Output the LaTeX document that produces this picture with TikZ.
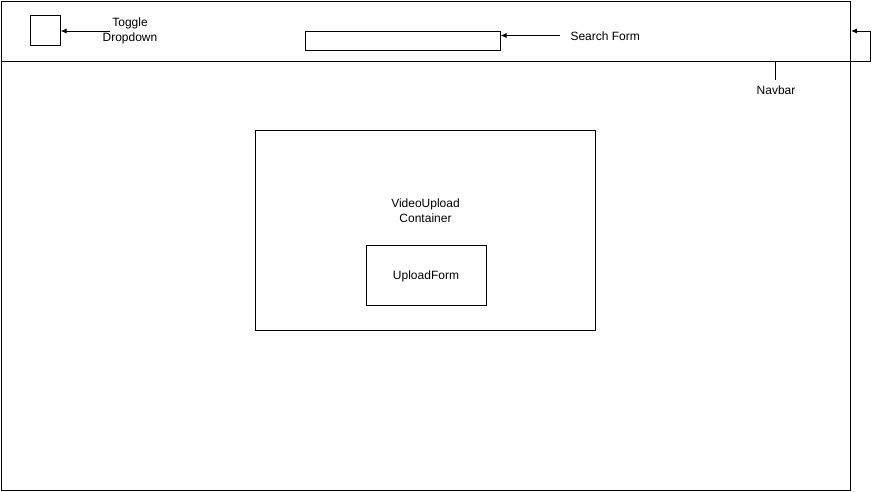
\documentclass[tikz,border=0pt]{standalone}
\usepackage{fontspec}
\setmainfont{Liberation Sans}
\usetikzlibrary{arrows.meta}
\begin{document}
\begin{tikzpicture}[x=1pt,y=-1pt,line width=1pt,
  box/.style={draw,fill=white,inner sep=0pt},
  lbl/.style={font=\fontsize{12}{15}\selectfont,align=center,inner sep=0pt},
  arr/.style={-{Latex[length=6pt,width=5pt]}}]
\useasboundingbox (0,0) rectangle (879,491);
\node[box,minimum width=849.5pt,minimum height=489.5pt,anchor=north west] (page) at (0.5,0.5) {};
\coordinate (navL) at (0.5,61);
\coordinate (navR) at (850,61);
\coordinate (navE) at (870,61);
\coordinate (navT) at (775,61);
\draw (navL) -- (navR);
\draw[arr] (navR) -- (navE) |- (page.east |- 0,31);
\node[lbl] (navbar) at (776,90.5) {Navbar};
\draw (navT) -- (775,80);
\node[box,minimum width=30pt,minimum height=30pt] (toggle) at (45,30.5) {};
\node[lbl] (togglelbl) at (130,31) {Toggle\\Dropdown};
\draw[arr] (110,31) -- (toggle.east |- 0,31);
\node[box,minimum width=195pt,minimum height=19pt] (search) at (402.5,40.5) {};
\node[lbl,anchor=west] (searchlbl) at (570,36) {Search Form};
\draw[arr] (560,35.5) -- (search.east |- 0,35.5);
\node[box,minimum width=340pt,minimum height=200pt] (container) at (425.5,230.5) {};
\node[lbl] (containerlbl) at (425.5,211) {VideoUpload\\Container};
\node[box,minimum width=120pt,minimum height=60pt] (upload) at (426.5,275.5) {};
\node[lbl] at (426,276) {UploadForm};
\end{tikzpicture}
\end{document}
